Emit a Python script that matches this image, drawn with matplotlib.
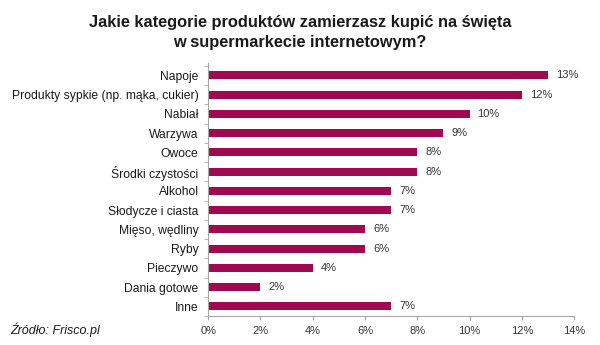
import matplotlib
matplotlib.use('Agg')
import matplotlib.pyplot as plt
import numpy as np

plt.rcParams['font.family'] = ['Liberation Sans', 'DejaVu Sans']

categories = ['Napoje', 'Produkty sypkie (np. mąka, cukier)', 'Nabiał', 'Warzywa',
              'Owoce', 'Środki czystości', 'Alkohol', 'Słodycze i ciasta',
              'Mięso, wędliny', 'Ryby', 'Pieczywo', 'Dania gotowe', 'Inne']
values = [13, 12, 10, 9, 8, 8, 7, 7, 6, 6, 4, 2, 7]
xticks = [0, 2, 4, 6, 8, 10, 12, 14]

bar_color = '#a0084f'
axis_color = '#a6a6a6'

fig = plt.figure(figsize=(6, 3.45), dpi=100)
ax = fig.add_axes([0.347, 0.084, 0.61, 0.732])

y = np.arange(len(categories))
ax.barh(y, values, height=0.42, color=bar_color)
for yi, v in zip(y, values):
    ax.text(v + 0.3, yi, f'{v}%', va='center', ha='left', fontsize=8, color='#333333')

ax.set_ylim(len(categories) - 0.5, -0.62)
ax.set_xlim(0, 14)
ax.set_xticks(xticks)
ax.set_xticklabels([f'{t}%' for t in xticks], fontsize=8, color='#333333')
ax.set_yticks(y)
ax.set_yticklabels(categories, fontsize=8.7, color='#1a1a1a')
ax.tick_params(axis='y', length=0, pad=7)
ax.tick_params(axis='x', length=3, color=axis_color, pad=4)

# small separator ticks between categories on the y axis
ax.set_yticks(np.arange(-0.5, len(categories), 1), minor=True)
ax.tick_params(axis='y', which='minor', length=3, color=axis_color)

for s in ['top', 'right']:
    ax.spines[s].set_visible(False)
for s in ['left', 'bottom']:
    ax.spines[s].set_color(axis_color)
    ax.spines[s].set_linewidth(0.8)

fig.text(0.5, 0.905, 'Jakie kategorie produktów zamierzasz kupić na święta\nw supermarkecie internetowym?',
         ha='center', va='center', fontsize=11.8, fontweight='bold', color='#1a1a1a', linespacing=1.42)
fig.text(0.017, 0.045, 'Źródło: Frisco.pl', ha='left', va='center', fontsize=9,
         style='italic', color='#1a1a1a')

fig.savefig('out.png', dpi=100)
